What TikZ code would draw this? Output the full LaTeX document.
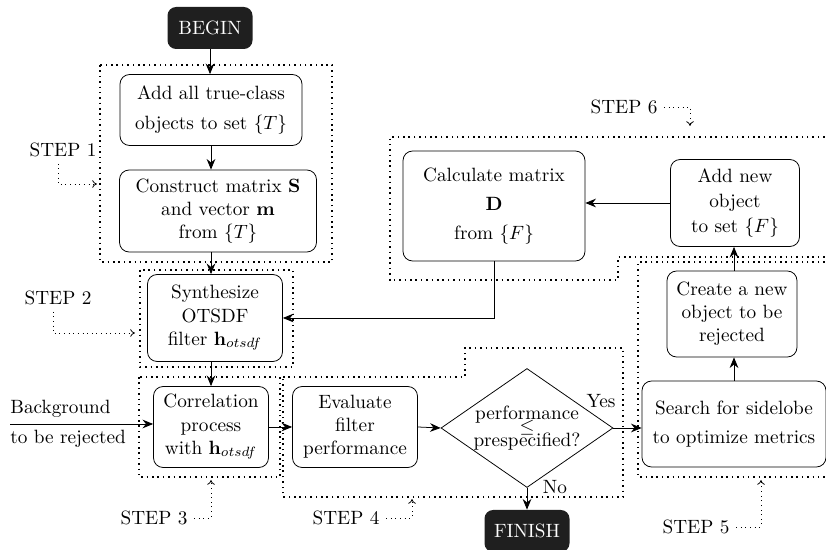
\documentclass[tikz,border=0pt]{standalone}
\usetikzlibrary{arrows.meta,shapes.geometric}

\newcommand{\Px}{0.52pt}
\newcommand{\Block}[6]{% name, x, y, w, h, text
  \node[block, minimum width=#4*\Px, minimum height=#5*\Px] (#1) at (#2,#3) {#6};
}
\newcommand{\Terminal}[4]{% name, x, y, text
  \node[terminal] (#1) at (#2,#3) {#4};
}

\tikzset{
  block/.style={draw, rounded corners=5pt, align=center, inner sep=2pt},
  terminal/.style={fill=black!88, text=white, rounded corners=4.5pt,
    minimum width=85*\Px, minimum height=42*\Px},
  flow/.style={-{Stealth[length=5.5pt,width=4.5pt]}},
  zone/.style={line width=0.8pt, dotted},
  note/.style={dotted, -{To[length=2.5pt,width=4pt]}},
}

\begin{document}
\begin{tikzpicture}[x=\Px, y=-\Px]
  \useasboundingbox (0,0) rectangle (826,550);
  %
  \Terminal{begin}{210}{28}{BEGIN}
  \Block{add}{211}{110}{182}{71}{Add all true-class\\[3.5pt] objects to set $\{T\}$}
  \Block{construct}{218}{211}{197}{82}{Construct matrix $\mathbf{S}$\\ and vector $\mathbf{m}$\\ from $\{T\}$}
  \Block{synth}{215}{318}{135}{87}{Synthesize\\ OTSDF\\ filter $\mathbf{h}_{otsdf}$}
  \Block{corr}{211}{427}{115}{81}{Correlation\\ process\\ with $\mathbf{h}_{otsdf}$}
  \Block{eval}{355}{427}{125}{81}{Evaluate\\ filter\\ performance}
  \node[draw, diamond, inner sep=0pt, minimum width=172*\Px, minimum height=119*\Px] (dec) at (527,428) {};
  \node[align=center, inner sep=0pt] (dectext) at (dec.center) {performance\\[-5pt] $\leq$\\[-5pt] prespecified?};
  \Terminal{finish}{527}{531}{FINISH}
  \Block{search}{734}{424}{184}{86}{Search for sidelobe\\[3pt] to optimize metrics}
  \Block{create}{732}{314}{130}{86}{Create a new\\ object to be\\ rejected}
  \Block{addnew}{735}{203}{129}{87}{Add new\\[1pt] object\\[1pt] to set $\{F\}$}
  \Block{calc}{494}{206}{182}{110}{Calculate matrix\\[3pt] $\mathbf{D}$\\[3pt] from $\{F\}$}
  %
  \node[anchor=west, inner sep=0pt] (bgtop) at (10,409) {Background};
  \node[anchor=west, inner sep=0pt] (bgbot) at (10,439) {to be rejected};
  \coordinate (bgin) at (10,424);
  %
  \draw[flow] (begin.south) -- (begin.south |- add.north);
  \draw[flow] (add.south) -- (add.south |- construct.north);
  \draw[flow] (add.south |- construct.south) -- (add.south |- synth.north);
  \draw[flow] (add.south |- synth.south) -- (add.south |- corr.north);
  \draw[flow] (bgin) -- (corr.west |- bgin);
  \draw[flow] (corr.east) -- (eval.west);
  \draw[flow] (eval.east) -- (dec.west);
  \draw[flow] (dec.south) -- (finish.north);
  \draw[flow] (dec.east) -- (search.west |- dec.east);
  \draw[flow] (search.north) -- (search.north |- create.south);
  \draw[flow] (search.north |- create.north) -- (search.north |- addnew.south);
  \draw[flow] (addnew.west) -- (calc.east |- addnew.west);
  \draw[flow] (calc.south) |- (synth.east);
  \node[inner sep=0pt] (yes) at (601,401) {Yes};
  \node[inner sep=0pt] (no) at (555,487) {No};
  %
  % step zones
  \draw[zone] (100,65) rectangle (332,262);
  \draw[zone] (140,270) rectangle (293,367);
  \draw[zone] (139,377) rectangle (280,477);
  \draw[zone] (283,377) -- (465,377) -- (465,348) -- (623,348) -- (623,497) -- (283,497) -- cycle;
  \draw[zone] (830,262) -- (638,262) -- (638,477) -- (830,477);
  \draw[zone] (830,137) -- (390,137) -- (390,280) -- (618,280) -- (618,257) -- (830,257);
  %
  % step notes
  \node (step1) at (63,150) {STEP 1};
  \node (step2) at (58,298) {STEP 2};
  \node (step3) at (154,518) {STEP 3};
  \node (step4) at (346,518) {STEP 4};
  \node (step5) at (696,527) {STEP 5};
  \node (step6) at (624,107) {STEP 6};
  \coordinate (tip1) at (97,184);
  \coordinate (tip2) at (135,333);
  \coordinate (tip3) at (211,480);
  \coordinate (tip4) at (412,499);
  \coordinate (tip5) at (761,480);
  \coordinate (tip6) at (690,126);
  \draw[note] ([xshift=-5*\Px]step1.south) |- (tip1);
  \draw[note] ([xshift=-5*\Px]step2.south) |- (tip2);
  \draw[note] (step3.east) -| (tip3);
  \draw[note] (step4.east) -| (tip4);
  \draw[note] (step5.east) -| (tip5);
  \draw[note] (step6.east) -| (tip6);
\end{tikzpicture}
\end{document}
